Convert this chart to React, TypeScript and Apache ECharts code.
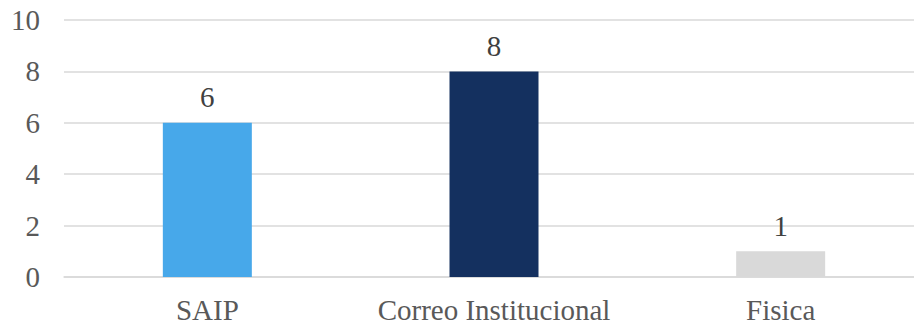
import React, { useEffect, useRef } from "react";
import * as echarts from "echarts";

const categories = ["SAIP", "Correo Institucional", "Fisica"];
const values = [6, 8, 1];
const barColors = ["#47A8EA", "#14305F", "#D9D9D9"];

const FONT = "Times New Roman, Liberation Serif, serif";
const TEXT = "#595959";

export default function App() {
  const ref = useRef<HTMLDivElement>(null);

  useEffect(() => {
    if (!ref.current) return;
    const chart = echarts.init(ref.current, undefined, { renderer: "svg" });
    chart.setOption({
      animation: false,
      backgroundColor: "#ffffff",
      textStyle: { fontFamily: FONT },
      grid: { left: 64, top: 20, width: 860, height: 257, containLabel: false },
      xAxis: {
        type: "category",
        data: categories,
        axisLine: { show: true, lineStyle: { color: "#D9D9D9", width: 1.5 } },
        axisTick: { show: false },
        axisLabel: { color: TEXT, fontFamily: FONT, fontSize: 29, margin: 18, interval: 0 },
      },
      yAxis: {
        type: "value",
        min: 0,
        max: 10,
        interval: 2,
        axisLine: { show: false },
        axisTick: { show: false },
        splitLine: { lineStyle: { color: "#D9D9D9", width: 1.5 } },
        axisLabel: { color: TEXT, fontFamily: FONT, fontSize: 29, margin: 24 },
      },
      series: [
        {
          type: "bar",
          barWidth: 89,
          data: values.map((v, i) => ({ value: v, itemStyle: { color: barColors[i] } })),
          label: {
            show: true,
            position: "top",
            distance: 11,
            color: "#404040",
            fontFamily: FONT,
            fontSize: 29,
          },
        },
      ],
    });
    return () => chart.dispose();
  }, []);

  return (
    <div style={{ position: "fixed", left: 0, top: 0, width: 914, height: 328, overflow: "hidden", background: "#fff" }}>
      <div ref={ref} style={{ width: 940, height: 328 }} />
    </div>
  );
}
